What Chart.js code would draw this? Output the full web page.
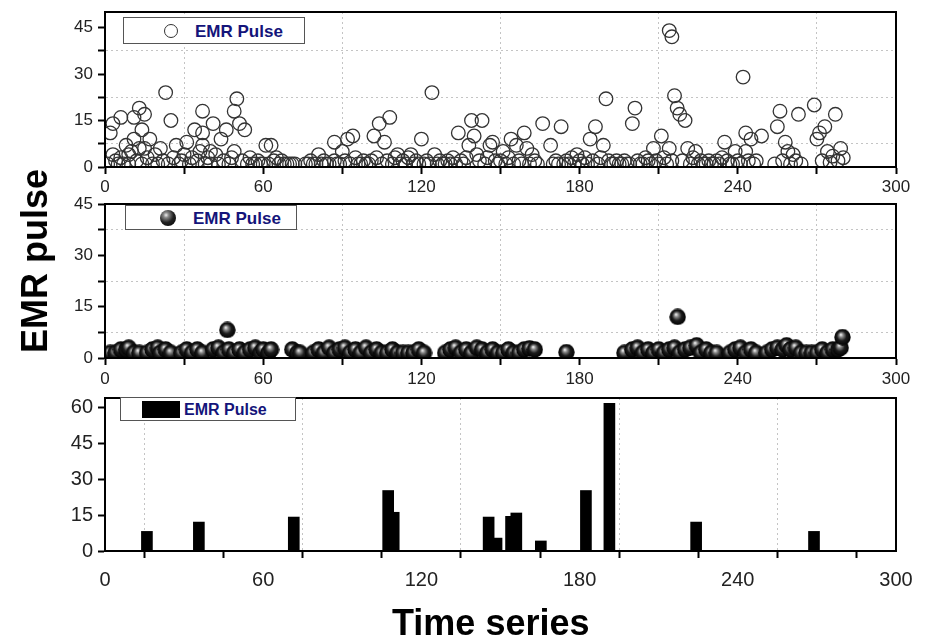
<!DOCTYPE html>
<html>
<head>
<meta charset="utf-8">
<script src="https://cdn.jsdelivr.net/npm/chart.js@4.4.1/dist/chart.umd.min.js"></script>
<style>
  html, body { margin: 0; padding: 0; background: #fff; }
  #wrap { position: relative; width: 928px; height: 642px; overflow: hidden; font-family: "Liberation Sans", Arial, sans-serif; }
  .panel { position: absolute; left: 0; width: 928px; }
  .legend { position: absolute; background: #fff; border: 1px solid #555; box-sizing: border-box; }
  .legend .txt { position: absolute; color: #14147a; font-weight: bold; font-size: 17px; white-space: nowrap; line-height: 1; }
  .mk { position: absolute; box-sizing: border-box; }
  .title { position: absolute; font-weight: bold; font-size: 36px; color: #000; white-space: nowrap; line-height: 1; }
</style>
</head>
<body>
<div id="wrap">
  <canvas id="top" class="panel" style="top:0" width="928" height="200"></canvas>
  <canvas id="mid" class="panel" style="top:190px" width="928" height="200"></canvas>
  <canvas id="bot" class="panel" style="top:386px" width="928" height="256"></canvas>

  <div class="legend" style="left:123px;top:17px;width:182px;height:27px">
    <div class="mk" style="left:40px;top:6px;width:14px;height:14px;border:1.3px solid #333;border-radius:50%"></div>
    <div class="txt" style="left:71px;top:5px">EMR Pulse</div>
  </div>
  <div class="legend" style="left:125px;top:205px;width:172px;height:25px">
    <div class="mk" style="left:34px;top:4px;width:16px;height:16px;border-radius:50%;background:radial-gradient(circle at 38% 32%, #eee 0%, #888 18%, #222 50%, #000 100%)"></div>
    <div class="txt" style="left:67px;top:4px">EMR Pulse</div>
  </div>
  <div class="legend" style="left:120px;top:397px;width:176px;height:24px">
    <div class="mk" style="left:21px;top:3px;width:38px;height:17px;background:#000"></div>
    <div class="txt" style="left:63px;top:4px;font-size:16px">EMR Pulse</div>
  </div>

  <div class="title" style="left:-57px;top:243px;transform:rotate(-90deg)">EMR pulse</div>
  <div class="title" style="left:392px;top:605px">Time series</div>
</div>
<script>
// ---- data ----
const timeTicks = [0, 30, 60, 90, 120, 150, 180, 210, 240, 270, 300];
const pulseTicks45 = [0, 7.5, 15, 22.5, 30, 37.5, 45];
const pulseTicks60 = [0, 7.5, 15, 22.5, 30, 37.5, 45, 52.5, 60];

// top panel: open circles [time, pulse]
const openPulse = [
  [1,1],[2,11],[3,14],[3,4],[4,2],[5,1],[6,16],[6,3],[7,1],[8,7],[9,4],[9,1],[10,5],[11,16],[11,9],[12,2],
  [13,19],[13,6],[14,12],[14,1],[15,6],[15,17],[16,3],[17,9],[18,1],[19,4],[20,1],[21,6],[22,2],[23,24],
  [24,1],[25,15],[26,3],[27,7],[28,1],[29,2],[30,4],[31,8],[32,1],[33,3],[34,12],[35,2],[36,5],[37,18],
  [37,11],[37,7],[38,1],[39,3],[40,5],[40,1],[41,14],[42,4],[43,1],[44,9],[45,2],[46,12],[47,1],[48,3],
  [49,18],[49,5],[50,22],[51,14],[52,2],[53,12],[54,1],[55,3],[56,1],[57,1],[58,2],[59,1],[60,1],[61,7],
  [62,1],[63,7],[64,2],[65,3],[66,1],[67,2],[68,1],[69,1],[70,1],[71,1],[72,1],
  [76,1],[77,1],[78,2],[79,1],[80,1],[81,4],[82,1],[83,2],[84,1],[85,1],[87,8],[87,2],[88,1],[89,1],[90,5],
  [91,2],[92,9],[93,1],[94,10],[95,3],[96,1],[97,1],[98,2],[99,1],[100,1],[101,2],[102,10],[103,3],[104,14],
  [105,1],[106,8],[107,2],[108,16],[109,1],
  [110,3],[111,4],[112,1],[113,2],[114,1],[115,3],[116,4],[117,1],[118,2],[119,1],[120,9],[121,1],[122,2],
  [123,1],[124,24],[125,4],[126,1],[127,2],[128,1],[129,1],[130,2],[131,1],[132,3],[133,1],[134,11],[135,2],
  [136,1],[137,3],[138,7],[139,15],[140,10],[141,4],[142,2],[143,15],[144,1],[145,3],[146,7],[147,8],[148,2],
  [149,1],[150,2],[151,5],[152,1],[153,3],[154,9],[155,1],[156,7],[157,2],[158,1],[159,11],[160,6],[161,1],
  [162,4],[163,2],[164,1],[166,14],[169,7],
  [170,1],[171,2],[172,1],[173,13],[174,1],[175,2],[176,1],[177,3],[178,1],[179,4],[180,2],[181,1],[182,3],
  [183,1],[184,9],[185,2],[186,13],[187,1],[188,3],[189,7],[190,22],[191,2],[192,1],[193,1],[194,2],[195,1],
  [196,1],[197,2],[198,1],[199,1],[200,14],[201,19],[202,2],[203,1],[204,1],[205,3],[206,2],[207,1],[208,6],
  [209,2],[210,1],[211,10],[212,3],[213,1],[214,44],[214,6],[215,42],[215,2],[216,23],[217,19],[218,17],
  [219,2],[220,15],[221,6],[222,1],[223,3],[224,5],[225,1],[226,2],[227,1],[228,1],[229,2],
  [230,1],[231,1],[232,2],[233,1],[234,3],[235,8],[236,2],[237,1],[238,1],[239,5],[240,2],[241,1],[242,29],
  [243,11],[243,5],[244,2],[245,9],[246,1],[247,2],[249,10],[254,1],[255,13],[256,18],[257,2],[258,8],
  [259,5],[260,1],[261,4],[262,2],[263,17],[264,1],[269,20],[270,9],[271,11],[272,2],[273,13],[274,5],
  [275,1.5],[276,3.5],[277,17],[278,2],[279,6],[280,3]
];

// middle panel: filled spheres [time, pulse]
const ballPulse = [
  [2,1.5],[4,1.5],[6,2.5],[8,2.5],[9,3],[11,1.5],[13,1.5],[16,1.5],[18,2.5],[20,3],[21,1.5],[23,2.5],[25,1.5],
  [29,1.5],[31,2.5],[33,1.5],[35,2.5],[37,1.5],[41,2.5],[43,3],[45,1.5],[46.4,8.2],[47,2.5],[49,1.5],[51,2.5],
  [53,1.5],[55,2.5],[57,3],[59,1.5],[60,2.5],[62,1.5],[63,2.5],[71,2.5],[73,1.5],[74,1.5],
  [79,1.5],[81,2.5],[83,1.5],[85,3],[87,1.5],[89,2.5],[91,3],[93,1.5],[95,2.5],[97,1.5],[99,3],[101,1.5],
  [103,2.5],[105,1.5],[107,1.5],[109,2.5],[111,1.5],[113,1.5],[115,1.5],[117,1.5],[119,2.5],[121,1.5],
  [129,1.5],[131,2.5],[133,3],[135,1.5],[137,2.5],[139,1.5],[141,3],[143,2.5],[145,1.5],[147,2.5],[149,1.5],
  [151,1.5],[153,2.5],[155,1.5],[157,1.5],[159,2.5],[161,2.8],[163,2.5],
  [175,1.7],
  [197,1.5],[200,2.5],[202,3],[204,1.5],[206,2.5],[208,1.5],[210,2.5],[212,1.5],[214,2.5],[216,3],[217.2,12],
  [218,1.5],[220,2.5],[222,3],[224.4,3.7],[226,1.5],[228,2.5],[230,1.5],[232,1.5],
  [237,1.5],[239,2.5],[241,3],[243,1.5],[245,2.5],[247,1.5],
  [251,1.5],[253,2.5],[255,3],[257,2.5],[258.5,3.7],[260,2.5],[262,3],[264,1.5],[266,1.5],[268,1.5],
  [270,1.5],[272,2.5],[274,1.5],[276,2.5],[278,2.5],[279,3],[279.7,6.1]
];

// bottom panel: bars
const barTime  = [15.9, 35.6, 71.6, 107.4, 109.5, 145.5, 148.5, 154, 156, 165.3, 182.4, 191.3, 224.2, 268.9];
const barPulse = [8.2, 12.1, 14.2, 25.3, 16.2, 14.2, 5.4, 14.5, 15.9, 4.2, 25.3, 61.8, 12.1, 8.2];

// ---- drawing ----
const fontFamily = '"Liberation Sans", Arial, sans-serif';

const framePlugin = {
  id: 'frame',
  afterDatasetsDraw(chart) {
    const { ctx, chartArea: a } = chart;
    ctx.save();
    ctx.strokeStyle = '#000';
    ctx.lineWidth = 2;
    ctx.strokeRect(a.left, a.top, a.right - a.left, a.bottom - a.top);
    ctx.restore();
  }
};

// axis labels may hang over the plot edges; keep the plot box where we put it
function noOverhang(s) {
  s.paddingTop = 0; s.paddingBottom = 0; s.paddingLeft = 0; s.paddingRight = 0;
}

function panelOptions(yMax, yTicks, xHeight, padTop, labelSize, xPad) {
  return {
    responsive: false,
    animation: false,
    layout: { padding: { top: padTop, right: 32, left: 0, bottom: 0 } },
    plugins: { legend: { display: false }, tooltip: { enabled: false } },
    scales: {
      x: {
        type: 'linear', min: 0, max: 300, offset: false,
        afterBuildTicks: s => { s.ticks = timeTicks.map(v => ({ value: v })); },
        afterFit: s => { s.height = xHeight; noOverhang(s); },
        ticks: {
          autoSkip: false, maxRotation: 0, padding: xPad, color: '#222',
          font: { family: fontFamily, size: labelSize },
          callback: v => (v % 60 === 0 ? v : '')
        },
        grid: {
          color: c => (c.tick && c.tick.value % 60 !== 0 ? '#c4c4c4' : 'rgba(0,0,0,0)'),
          lineWidth: 1, tickColor: '#000', tickWidth: 2, tickLength: 7, tickBorderDash: []
        },
        border: { display: true, color: '#000', width: 2, dash: [2, 3] }
      },
      y: {
        min: 0, max: yMax,
        afterBuildTicks: s => { s.ticks = yTicks.map(v => ({ value: v })); },
        afterFit: s => { s.width = 105; noOverhang(s); },
        ticks: {
          padding: 5, color: '#222',
          font: { family: fontFamily, size: labelSize },
          callback: v => (v % 15 === 0 ? v : '')
        },
        grid: {
          color: c => (c.tick && c.tick.value % 15 !== 0 ? '#c4c4c4' : 'rgba(0,0,0,0)'),
          lineWidth: 1, tickColor: '#000', tickWidth: 2, tickLength: 7, tickBorderDash: []
        },
        border: { display: true, color: '#000', width: 2, dash: [2, 3] }
      }
    }
  };
}

function sphere(d) {
  const c = document.createElement('canvas');
  c.width = d; c.height = d;
  const g = c.getContext('2d');
  const r = d / 2;
  const grad = g.createRadialGradient(r * 0.8, r * 0.7, 0.3, r, r, r);
  grad.addColorStop(0, '#f2f2f2');
  grad.addColorStop(0.22, '#8a8a8a');
  grad.addColorStop(0.55, '#1c1c1c');
  grad.addColorStop(1, '#000');
  g.fillStyle = grad;
  g.beginPath();
  g.arc(r, r, r - 0.3, 0, Math.PI * 2);
  g.fill();
  return c;
}

// top: plot box 12..167
new Chart(document.getElementById('top'), {
  type: 'scatter',
  data: {
    datasets: [{
      data: openPulse.map(p => ({ x: p[0], y: p[1] })),
      pointRadius: 6.8,
      pointBorderWidth: 1.3,
      borderColor: '#333',
      backgroundColor: 'rgba(255,255,255,0)'
    }]
  },
  options: panelOptions(50, pulseTicks45, 33, 12, 17, 3),
  plugins: [framePlugin]
});

// middle: plot box 204..358
new Chart(document.getElementById('mid'), {
  type: 'scatter',
  data: {
    datasets: [{
      data: ballPulse.map(p => ({ x: p[0], y: p[1] })),
      pointStyle: sphere(17)
    }]
  },
  options: panelOptions(45, pulseTicks45, 32, 14, 17, 4),
  plugins: [framePlugin]
});

// bottom: plot box 398..551
new Chart(document.getElementById('bot'), {
  type: 'bar',
  data: {
    datasets: [{
      data: barTime.map((t, i) => ({ x: t, y: barPulse[i] })),
      backgroundColor: '#000',
      borderWidth: 0,
      barThickness: 11,
      grouped: false
    }]
  },
  options: panelOptions(64, pulseTicks60, 91, 12, 20, 10),
  plugins: [framePlugin]
});
</script>
</body>
</html>
